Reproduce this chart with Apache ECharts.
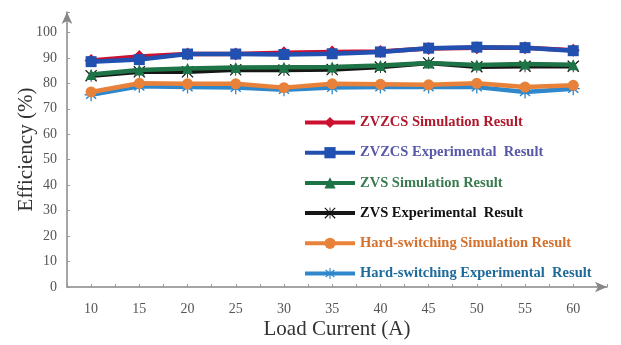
<!DOCTYPE html>
<html>
<head>
<meta charset="utf-8">
<script src="https://cdn.jsdelivr.net/npm/echarts@6/dist/echarts.min.js"></script>
<style>
  html, body { margin: 0; padding: 0; background: #fff; }
  #chart { width: 621px; height: 345px; }
</style>
</head>
<body>
<div id="chart"></div>
<script>
// Load current (A)
const currents = [10, 15, 20, 25, 30, 35, 40, 45, 50, 55, 60];

// Efficiency (%) per converter type
const zvzcsSim = [89, 90.5, 91.5, 91.5, 92, 92.3, 92.5, 93.7, 94, 94, 93];
const zvzcsExp = [88.5, 89.3, 91.5, 91.5, 91.3, 91.6, 92.3, 93.8, 94.2, 94, 92.8];
const zvsSim = [83.5, 85.2, 85.8, 86.2, 86.3, 86.4, 87, 88, 87.2, 87.6, 87.3];
const zvsExp = [83, 84.5, 84.5, 85.3, 85.2, 85.4, 86.4, 88, 86.5, 86.7, 86.7];
const hardSim = [76.6, 80, 79.8, 79.8, 78.3, 79.8, 79.6, 79.4, 80, 78.5, 79.2];
const hardExp = [75.5, 78.8, 78.5, 78.3, 77.5, 78.3, 78.5, 78.5, 78.5, 76.6, 77.9];

const seriesNames = [
  'ZVZCS Simulation Result',
  'ZVZCS Experimental  Result',
  'ZVS Simulation Result',
  'ZVS Experimental  Result',
  'Hard-switching Simulation Result',
  'Hard-switching Experimental  Result'
];

const xMark = 'path://M0,1.5 L1.5,0 L10,8.5 L18.5,0 L20,1.5 L11.5,10 L20,18.5 L18.5,20 L10,11.5 L1.5,20 L0,18.5 L8.5,10 Z M9.3,0 H10.7 V20 H9.3 Z';
const asterisk = 'path://M9,0 H11 V8 L17,3 L18.5,4.5 L12.5,10 L18.5,15.5 L17,17 L11,12 V20 H9 V12 L3,17 L1.5,15.5 L7.5,10 L1.5,4.5 L3,3 L9,8 Z M0,9 H20 V11 H0 Z';

const styles = [
  { data: zvzcsSim, color: '#cc1030', text: '#b0182c', symbol: 'diamond', size: 13, z: 3 },
  { data: zvzcsExp, color: '#2250b0', text: '#5858a8', symbol: 'rect', size: 11, z: 4 },
  { data: zvsSim, color: '#1e7446', text: '#3a7a50', symbol: 'triangle', size: 11, z: 6 },
  { data: zvsExp, color: '#161616', text: '#111111', symbol: xMark, size: 12, z: 5 },
  { data: hardSim, color: '#e8823a', text: '#d4702c', symbol: 'circle', size: 11, z: 8 },
  { data: hardExp, color: '#2f88cc', text: '#1e6a9a', symbol: asterisk, size: 13, z: 7 }
];

const serif = '"Liberation Serif", "DejaVu Serif", serif';

const chart = echarts.init(document.getElementById('chart'));
chart.setOption({
  animation: false,
  backgroundColor: '#ffffff',
  textStyle: { fontFamily: serif },
  grid: { left: 67, right: 14, top: 12, bottom: 58, containLabel: false, outerBoundsMode: 'none' },
  legend: {
    orient: 'vertical',
    left: 298,
    top: 110,
    itemWidth: 50,
    itemHeight: 14,
    itemGap: 15.2,
    lineStyle: { width: 4 },
    data: seriesNames.map((n, i) => ({
      name: n,
      textStyle: { color: styles[i].text }
    })),
    textStyle: { fontFamily: serif, fontSize: 14.5, fontWeight: 'bold' }
  },
  xAxis: {
    type: 'value',
    min: 7.5,
    max: 63.5,
    interval: 2.5,
    name: 'Load Current (A)',
    nameLocation: 'middle',
    nameGap: 32,
    nameMoveOverlap: false,
    nameTextStyle: { fontFamily: serif, fontSize: 21, color: '#333' },
    axisLine: { show: true, lineStyle: { color: '#888', width: 1.5 }, symbol: ['none', 'arrow'], symbolSize: [8, 12] },
    axisTick: { show: true, inside: true, length: 3, lineStyle: { color: '#999' } },
    axisLabel: {
      margin: 15,
      fontFamily: serif,
      fontSize: 14,
      color: '#555',
      formatter: v => (v >= 10 && v <= 60 && v % 5 === 0) ? String(v) : ''
    },
    splitLine: { show: false }
  },
  yAxis: {
    type: 'value',
    min: 0,
    max: 108,
    interval: 10,
    name: 'Efficiency (%)',
    nameLocation: 'middle',
    nameGap: 30,
    nameMoveOverlap: false,
    nameRotate: 90,
    nameTextStyle: { fontFamily: serif, fontSize: 21, color: '#333' },
    axisLine: { show: true, lineStyle: { color: '#888', width: 1.5 }, symbol: ['none', 'arrow'], symbolSize: [8, 12] },
    axisTick: { show: true, inside: true, length: 3, lineStyle: { color: '#999' } },
    axisLabel: {
      margin: 10,
      fontFamily: serif,
      fontSize: 14,
      color: '#555',
      formatter: v => v <= 100 ? String(v) : ''
    },
    splitLine: { show: false }
  },
  series: styles.map((s, i) => ({
    name: seriesNames[i],
    type: 'line',
    z: s.z,
    data: currents.map((c, j) => [c, s.data[j]]),
    symbol: s.symbol,
    symbolSize: s.size,
    showSymbol: true,
    lineStyle: { color: s.color, width: 4.5 },
    itemStyle: { color: s.color, borderWidth: 0 }
  }))
});
</script>
</body>
</html>
